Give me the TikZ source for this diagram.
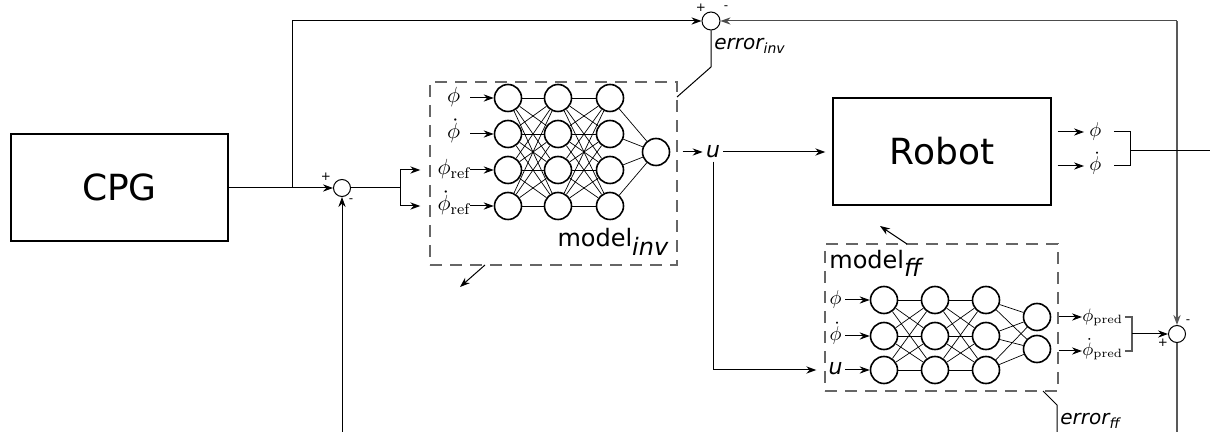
\documentclass[tikz,border=0pt]{standalone}
\usepackage{fontspec}
\newfontfamily\djv{DejaVu Sans}
\usetikzlibrary{arrows.meta,calc}
\begin{document}
\begin{tikzpicture}[x=0.5pt,y=-0.5pt,
  arr/.style={line width=0.5pt,-{Stealth[length=5pt,width=3.6pt]}},
  ln/.style={line width=0.5pt},
  glin/.style={line width=0.7pt,draw=black!65},
  blk/.style={draw,line width=0.7pt,inner sep=0pt,font=\djv\fontsize{18}{20}\selectfont},
  sumj/.style={draw,circle,line width=0.5pt,minimum size=9pt,inner sep=0pt},
  neur/.style={draw,circle,line width=0.8pt,minimum size=13.5pt,inner sep=0pt},
  syn/.style={line width=0.35pt},
  dbox/.style={draw=black!60,dash pattern=on 6pt off 4pt,line width=0.7pt,inner sep=0pt},
  inl/.style={inner sep=0pt,text width=16pt,align=center,text height=7pt,text depth=2.2pt,font=\fontsize{11}{12}\selectfont},
  inl2/.style={inner sep=0pt,text width=9pt,align=center,text height=6.5pt,text depth=2pt,font=\fontsize{10}{11}\selectfont},
  ol/.style={inner sep=0pt,align=center,text height=6.5pt,text depth=2pt,font=\fontsize{10}{11}\selectfont},
  sgn/.style={inner sep=0pt,font=\djv\fontsize{6}{7}\selectfont},
  mtxt/.style={inner sep=0pt,font=\djv\fontsize{12}{14}\selectfont},
  etxt/.style={inner sep=0pt,font=\djv\itshape\fontsize{10}{12}\selectfont}
]
\useasboundingbox (0,0) rectangle (1210,432);

% main blocks
\node[blk,minimum width=108.5pt,minimum height=53.5pt] (cpg) at (119.5,187.5) {CPG};
\node[blk,minimum width=109pt,minimum height=53.5pt] (robot) at (942,151.5) {Robot};
\node[dbox,minimum width=123.5pt,minimum height=91.5pt] (minv) at (553.5,173.5) {};
\node[dbox,minimum width=116.5pt,minimum height=73.5pt] (mff) at (941.5,317.5) {};
\node[mtxt,anchor=base east] (tinv) at (669,247) {model\raisebox{-0.35em}{\textit{inv}}};
\node[mtxt,anchor=base west] (tff) at (829,269) {model\raisebox{-0.3em}{\textit{ff}}};

% inverse model network
\foreach \c/\x in {1/508,2/558,3/610}
  \foreach \r/\y in {1/98,2/134,3/170,4/206}
    \node[neur] (a\c\r) at (\x,\y) {};
\node[neur] (aout) at (656,152) {};
\foreach \r in {1,...,4} {
  \foreach \s in {1,...,4} {
    \draw[syn] (a1\r) -- (a2\s);
    \draw[syn] (a2\r) -- (a3\s);
  }
  \draw[syn] (a3\r) -- (aout);
}
\node[inl,anchor=east] (ia1) at (470,98) {$\phi$};
\node[inl,anchor=east] (ia2) at (470,134) {$\dot\phi$};
\node[inl,anchor=east] (ia3) at (470,170) {$\phi_{\mathrm{ref}}$};
\node[inl,anchor=east] (ia4) at (470,206) {$\dot\phi_{\mathrm{ref}}$};
\foreach \r in {1,...,4} \draw[arr] (ia\r) -- (a1\r);

% forward model network
\foreach \c/\x in {1/884,2/935,3/986}
  \foreach \r/\y in {1/300,2/336,3/370}
    \node[neur] (b\c\r) at (\x,\y) {};
\node[neur] (bo1) at (1037,317) {};
\node[neur] (bo2) at (1037,349) {};
\foreach \r in {1,2,3} {
  \foreach \s in {1,2,3} {
    \draw[syn] (b1\r) -- (b2\s);
    \draw[syn] (b2\r) -- (b3\s);
  }
  \draw[syn] (b3\r) -- (bo1);
  \draw[syn] (b3\r) -- (bo2);
}
\node[inl2,anchor=east] (ib1) at (845,300) {$\phi$};
\node[inl2,anchor=east] (ib2) at (845,336) {$\dot\phi$};
\node[inl2,anchor=east] (ib3) at (845,370) {\djv\itshape\fontsize{11}{12}\selectfont u};
\foreach \r in {1,2,3} \draw[arr] (ib\r) -- (b1\r);

% summing junctions
\node[sumj] (j1) at (711,21) {};
\node[sumj,minimum size=8.5pt] (j2) at (342,188) {};
\node[sumj,minimum size=8.5pt] (j3) at (1177,334) {};
\node[sgn] (s1) at (701,8) {+};
\node[sgn] (s2) at (726,8) {-};
\node[sgn] (s3) at (326,177) {+};
\node[sgn] (s4) at (351,201) {-};
\node[sgn] (s5) at (1188,322) {-};
\node[sgn] (s6) at (1163,343) {+};

% CPG to junction and top feedback
\coordinate (br) at (292,188);
\coordinate (tl) at (292,21);
\coordinate (tr) at (1177,21);
\draw[arr] (cpg.east |- j2) -- (j2);
\draw[arr] (br) -- (tl) -- (j1);
\draw[arr,draw=black!70] (tr) -- (j1);
\draw[glin,-{Stealth[length=5pt,width=3.6pt]}] (tr) -- (j3);

% junction 2 to inverse model
\coordinate (fk) at (400,188);
\coordinate (jb) at (342,432);
\draw[ln] (j2) -- (fk);
\draw[arr] (fk) |- ($(minv.west |- ia3)+(-9,0)$);
\draw[arr] (fk) |- ($(minv.west |- ia4)+(-9,0)$);
\draw[arr] (jb) -- (j2);

% error inv
\coordinate (e1) at (711,67);
\coordinate (e2) at (677,97);
\draw[ln] (j1) -- (e1) -- (e2);
\node[etxt,anchor=base west] (einv) at (714,50) {error\textsubscript{inv}};

% u signal
\node[inner sep=1.5pt,font=\djv\itshape\fontsize{11}{12}\selectfont] (u) at (713,152) {u};
\draw[arr,shorten <=2.5pt] (minv.east |- aout) -- (u);
\draw[arr,shorten >=3.5pt] (u) -- (u -| robot.west);
\draw[arr] (u) |- ($(mff.west |- ib3)+(-8,0)$);

% robot outputs
\node[ol,text width=11pt,anchor=west] (ro1) at (1084,132) {$\phi$};
\node[ol,text width=11pt,anchor=west] (ro2) at (1084,166) {$\dot\phi$};
\draw[arr,shorten <=3pt] (robot.east |- ro1) -- (ro1);
\draw[arr,shorten <=3pt] (robot.east |- ro2) -- (ro2);
\coordinate (rb) at (1130,151);
\coordinate (rout) at (1210,151);
\draw[ln,shorten <=3.5pt,shorten >=3.5pt] (ro1.east) -- (ro1.east -| rb) -- (ro2.east -| rb) -- (ro2.east);
\draw[ln] (rb) -- (rout);

% forward model outputs
\node[ol,text width=17pt,anchor=west,font=\fontsize{9}{10}\selectfont] (po1) at (1082,317) {$\phi_{\mathrm{pred}}$};
\node[ol,text width=17pt,anchor=west,font=\fontsize{9}{10}\selectfont] (po2) at (1082,351) {$\dot\phi_{\mathrm{pred}}$};
\draw[arr] (mff.east |- po1) -- (po1);
\draw[arr] (mff.east |- po2) -- (po2);
\coordinate (pb) at (1132,334);
\draw[glin,shorten <=4pt,shorten >=4pt] (po1.east) -- (po1.east -| pb) -- (po2.east -| pb) -- (po2.east);
\draw[arr] (pb) -- (j3);
\coordinate (jb3) at (1177,432);
\draw[glin] (j3) -- (jb3);

% error ff
\coordinate (f1) at (1043,391);
\coordinate (f2) at (1057,405);
\coordinate (f3) at (1057,432);
\draw[ln] (f1) -- (f2) -- (f3);
\node[etxt,anchor=base west] (eff) at (1060,425) {error\textsubscript{ff}};

% diagonal arrows
\coordinate (d1) at (485,265);
\coordinate (d2) at (460,287);
\draw[arr] (d1) -- (d2);
\coordinate (d3) at (907,244);
\coordinate (d4) at (880,226);
\draw[arr] (d3) -- (d4);
\end{tikzpicture}
\end{document}
